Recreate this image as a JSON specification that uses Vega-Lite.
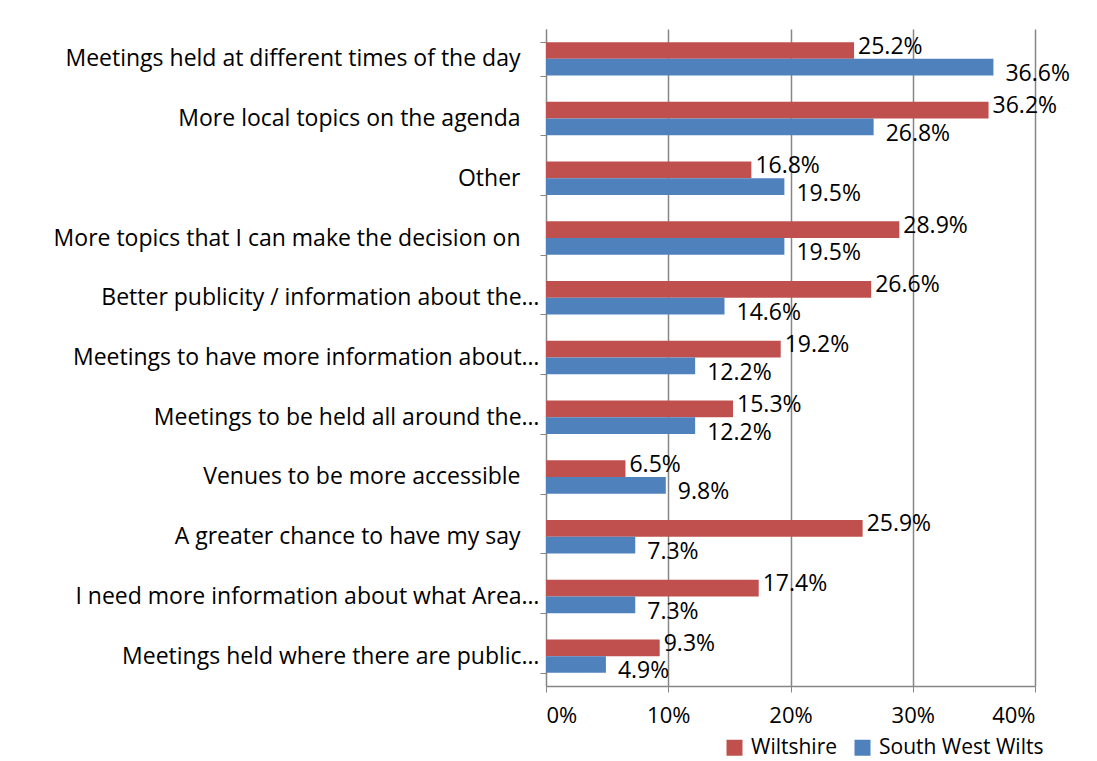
{
  "$schema": "https://vega.github.io/schema/vega-lite/v6.json",
  "width": 489,
  "height": 657,
  "autosize": {"type": "none"},
  "padding": {"left": 546, "top": 29, "right": 62, "bottom": 75},
  "background": "white",
  "config": {
    "font": "Open Sans",
    "view": {"stroke": null},
    "axis": {"labelFont": "Open Sans", "labelFontSize": 23, "labelColor": "#000000", "domainColor": "#868686", "tickColor": "#868686"}
  },
  "data": {
    "values": [
      {"item": "Meetings held at different times of the day", "series": "Wiltshire", "value": 0.252},
      {"item": "Meetings held at different times of the day", "series": "South West Wilts", "value": 0.366},
      {"item": "More local topics on the agenda", "series": "Wiltshire", "value": 0.362},
      {"item": "More local topics on the agenda", "series": "South West Wilts", "value": 0.268},
      {"item": "Other", "series": "Wiltshire", "value": 0.168},
      {"item": "Other", "series": "South West Wilts", "value": 0.195},
      {"item": "More topics that I can make the decision on", "series": "Wiltshire", "value": 0.289},
      {"item": "More topics that I can make the decision on", "series": "South West Wilts", "value": 0.195},
      {"item": "Better publicity / information about the…", "series": "Wiltshire", "value": 0.266},
      {"item": "Better publicity / information about the…", "series": "South West Wilts", "value": 0.146},
      {"item": "Meetings to have more information about…", "series": "Wiltshire", "value": 0.192},
      {"item": "Meetings to have more information about…", "series": "South West Wilts", "value": 0.122},
      {"item": "Meetings to be held all around the…", "series": "Wiltshire", "value": 0.153},
      {"item": "Meetings to be held all around the…", "series": "South West Wilts", "value": 0.122},
      {"item": "Venues to be more accessible", "series": "Wiltshire", "value": 0.065},
      {"item": "Venues to be more accessible", "series": "South West Wilts", "value": 0.098},
      {"item": "A greater chance to have my say", "series": "Wiltshire", "value": 0.259},
      {"item": "A greater chance to have my say", "series": "South West Wilts", "value": 0.073},
      {"item": "I need more information about what Area…", "series": "Wiltshire", "value": 0.174},
      {"item": "I need more information about what Area…", "series": "South West Wilts", "value": 0.073},
      {"item": "Meetings held where there are public…", "series": "Wiltshire", "value": 0.093},
      {"item": "Meetings held where there are public…", "series": "South West Wilts", "value": 0.049}
    ]
  },
  "encoding": {
    "y": {
      "field": "item", "type": "nominal", "sort": null, "title": null,
      "scale": {"paddingInner": 0.44, "paddingOuter": 0.22},
      "axis": {
        "tickBand": "extent", "tickSize": 6, "labelLimit": 600,
        "labelPadding": {"condition": {"test": "indexof(datum.label, '…') >= 0", "value": 1}, "value": 20}
      }
    },
    "yOffset": {"field": "series", "type": "nominal", "sort": ["Wiltshire", "South West Wilts"]},
    "x": {
      "field": "value", "type": "quantitative", "title": null,
      "scale": {"domain": [0, 0.4], "nice": false},
      "axis": {"format": ".0%", "values": [0, 0.1, 0.2, 0.3, 0.4], "grid": true, "gridColor": "#868686", "gridWidth": 1.5, "tickSize": 6, "labelPadding": 13, "labelFontSize": 22, "domainWidth": 1.5}
    }
  },
  "layer": [
    {
      "mark": {"type": "bar"},
      "encoding": {
        "color": {
          "field": "series", "type": "nominal", "sort": ["Wiltshire", "South West Wilts"],
          "scale": {"domain": ["Wiltshire", "South West Wilts"], "range": ["#C0504D", "#4F81BD"]},
          "legend": {
            "title": null, "orient": "none", "direction": "horizontal", "legendX": 178, "legendY": 708,
            "symbolType": "square", "symbolSize": 256, "symbolStrokeWidth": 0, "labelFontSize": 21, "labelFont": "Open Sans", "labelColor": "#000000", "labelLimit": 400, "columnPadding": 14, "labelOffset": 6
          }
        }
      }
    },
    {
      "transform": [{"filter": "datum.series === 'Wiltshire'"}],
      "mark": {"type": "text", "align": "left", "baseline": "middle", "dx": 4, "dy": -4, "fontSize": 23, "font": "Open Sans", "color": "#000000"},
      "encoding": {
        "text": {"field": "value", "type": "quantitative", "format": ".1%"}
      }
    },
    {
      "transform": [{"filter": "datum.series === 'South West Wilts'"}],
      "mark": {"type": "text", "align": "left", "baseline": "middle", "dx": 12, "dy": 7, "fontSize": 23, "font": "Open Sans", "color": "#000000"},
      "encoding": {
        "text": {"field": "value", "type": "quantitative", "format": ".1%"}
      }
    }
  ]
}
